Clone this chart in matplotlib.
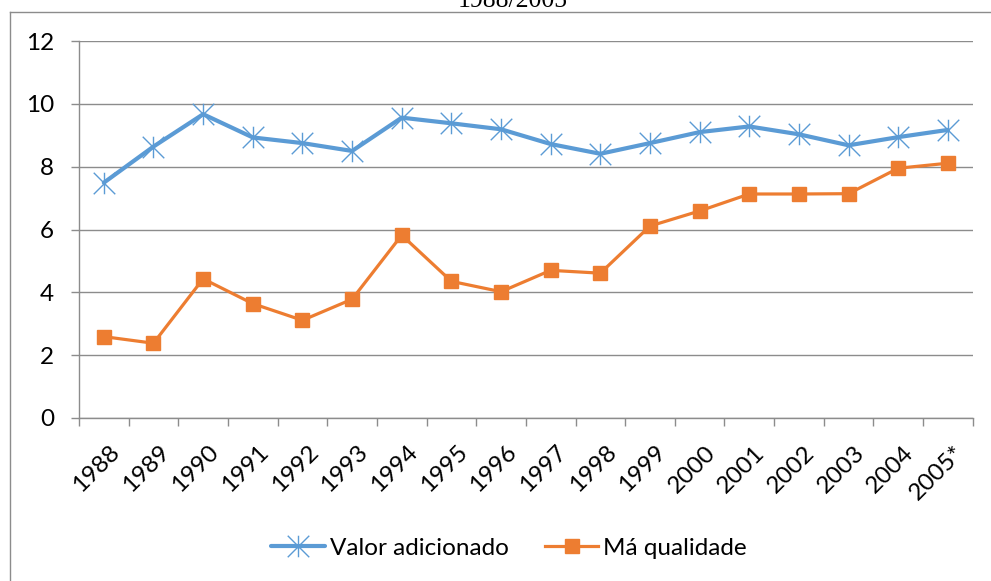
import numpy as np
import matplotlib.pyplot as plt
import matplotlib.transforms as mtransforms
from matplotlib.path import Path
from matplotlib.lines import Line2D

# data
anos = ['1988', '1989', '1990', '1991', '1992', '1993', '1994', '1995', '1996',
        '1997', '1998', '1999', '2000', '2001', '2002', '2003', '2004', '2005*']
valor_adicionado = [7.49, 8.64, 9.67, 8.93, 8.75, 8.50, 9.56, 9.38, 9.19,
                    8.72, 8.41, 8.75, 9.10, 9.28, 9.03, 8.68, 8.94, 9.17]
ma_qualidade = [2.59, 2.38, 4.43, 3.64, 3.11, 3.78, 5.82, 4.35, 4.02,
                4.70, 4.61, 6.11, 6.59, 7.13, 7.13, 7.14, 7.95, 8.11]

BLUE = '#5B9BD5'
ORANGE = '#ED7D31'
GRID = '#8C8C8C'
FS = 17.5

plt.rcParams['font.family'] = ['Lato', 'DejaVu Sans']

# Excel style star: an X plus a vertical stroke
star = Path([(-1, -1), (1, 1), (-1, 1), (1, -1), (0, -1), (0, 1)],
            [Path.MOVETO, Path.LINETO, Path.MOVETO, Path.LINETO, Path.MOVETO, Path.LINETO])

fig = plt.figure(figsize=(9.91, 5.81), dpi=100)
ax = fig.add_axes([79 / 991, 1 - 418 / 581, (972.7 - 79) / 991, (418 - 41) / 581])

x = np.arange(len(anos))
ax.plot(x, valor_adicionado, color=BLUE, lw=3.0, marker=star, ms=15.5,
        mec=BLUE, mew=1.0, label='Valor adicionado', solid_capstyle='round')
ax.plot(x, ma_qualidade, color=ORANGE, lw=2.3, marker='s', ms=10.5,
        mfc=ORANGE, mec=ORANGE, label='Má qualidade')

ax.set_xlim(-0.5, len(anos) - 0.5)
ax.set_ylim(0, 12)
ax.set_yticks(range(0, 13, 2))
ax.yaxis.grid(True, color=GRID, lw=1.0)
ax.set_axisbelow(True)

ax.set_xticks(x)
ax.set_xticklabels(anos, rotation=45, ha='right', va='top', rotation_mode='anchor')
ax.set_xticks(np.arange(-0.5, len(anos), 1.0), minor=True)
ax.tick_params(axis='x', which='major', length=0, pad=17, labelsize=FS)
ax.tick_params(axis='x', which='minor', length=6, color=GRID, width=1.0)
ax.tick_params(axis='y', length=6, color=GRID, width=1.0, pad=12, labelsize=FS)

# nudge the slanted year labels a little to the right
shift = mtransforms.ScaledTranslation(5 / 100, 0, fig.dpi_scale_trans)
for lbl in ax.get_xticklabels():
    lbl.set_transform(lbl.get_transform() + shift)

for s in ['top', 'right']:
    ax.spines[s].set_visible(False)
for s in ['left', 'bottom']:
    ax.spines[s].set_color(GRID)
    ax.spines[s].set_linewidth(1.0)

fig.legend(loc='center', bbox_to_anchor=(509 / 991, 1 - 548 / 581), ncol=2,
           frameon=False, fontsize=FS, handlelength=2.2, handletextpad=0.2,
           columnspacing=1.5)

# chart frame, cut by the picture edges
fig.add_artist(Line2D([9.5 / 991, 9.5 / 991], [0, 1 - 12 / 581], transform=fig.transFigure,
                      color=GRID, lw=1.0))
fig.add_artist(Line2D([9.5 / 991, 1], [1 - 12 / 581, 1 - 12 / 581], transform=fig.transFigure,
                      color=GRID, lw=1.0))

# title line above the frame, cut by the top edge as in the source
fig.text(513 / 991, 1 - 7 / 581, '1988/2005', ha='center', va='baseline',
         fontsize=18.5, family='Liberation Serif')

fig.savefig('out.png', dpi=100)
